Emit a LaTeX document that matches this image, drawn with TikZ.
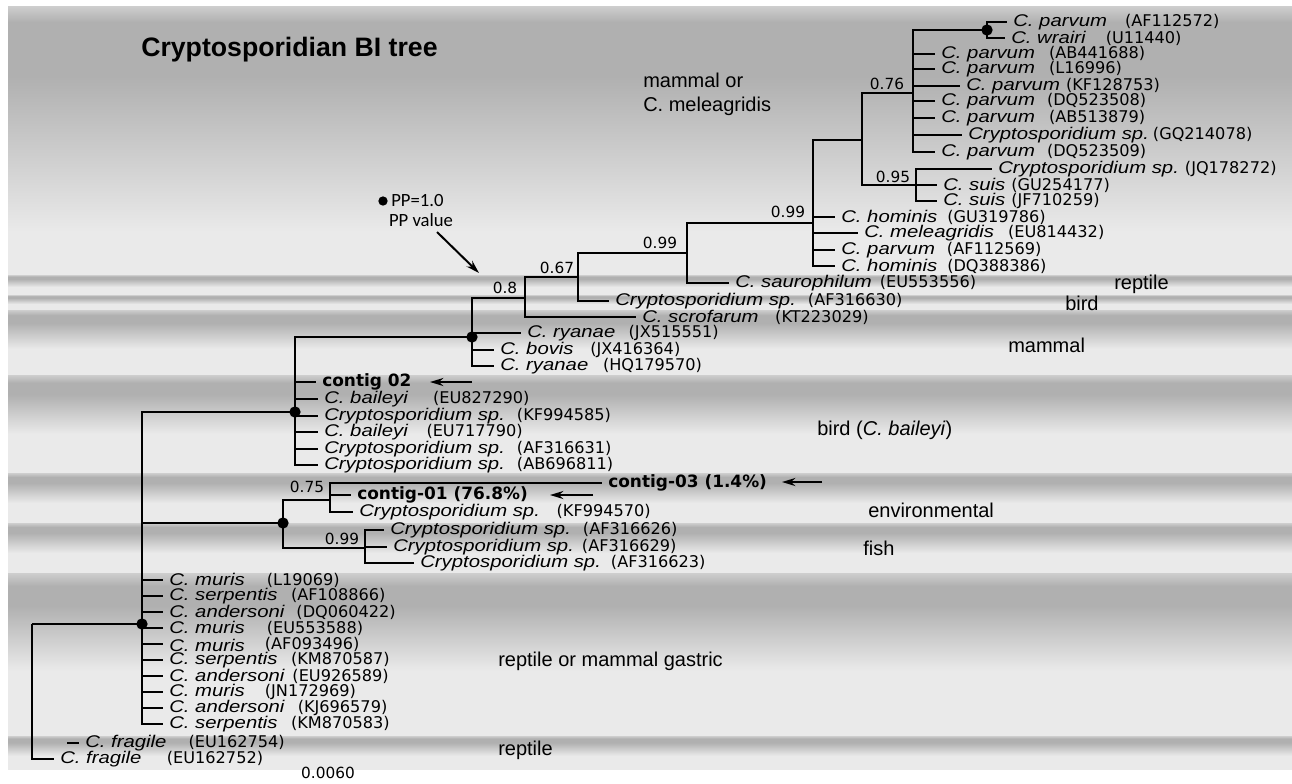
\documentclass[tikz,border=0pt]{standalone}
\usepackage{fontspec}
\setmainfont{Liberation Sans}
\newfontfamily\namefont[FakeStretch=1.2]{Liberation Sans}
\newfontfamily\accfont{DejaVu Sans}
\newfontfamily\ppfont{Carlito}
\usetikzlibrary{arrows.meta}

\definecolor{banddark}{RGB}{176,176,176}
\definecolor{bandlight}{RGB}{234,234,234}
\definecolor{bandedge}{RGB}{206,206,206}
\pgfdeclareverticalshading{bandshade}{100bp}{color(0bp)=(bandlight); color(25bp)=(bandlight); color(45bp)=(bandlight); color(65bp)=(banddark); color(71bp)=(banddark); color(75bp)=(bandedge); color(100bp)=(bandedge)}
\pgfdeclareverticalshading{topshade}{100bp}{color(0bp)=(bandlight); color(25bp)=(bandlight); color(33bp)=(bandlight); color(62bp)=(banddark); color(72bp)=(banddark); color(75bp)=(bandedge); color(100bp)=(bandedge)}

\newcommand{\taxon}[3]{{\namefont\itshape #1}\hspace{#3pt}{\accfont\fontsize{12.1}{14}\selectfont(#2)}}
\newcommand{\contig}[1]{{\accfont\bfseries #1}}

\begin{document}
\begin{tikzpicture}[x=0.75pt, y=-0.75pt,
  branch/.style={line width=1.5pt},
  leaf/.style={anchor=west, inner xsep=4.5pt, inner ysep=1pt, font=\fontsize{12.7}{14}\selectfont},
  ppdot/.style={circle, fill=black, inner sep=0pt, minimum size=8.5pt},
  support/.style={inner sep=0pt, font=\accfont\fontsize{11.5}{13}\selectfont},
  host/.style={anchor=west, inner sep=0pt, font=\fontsize{15}{18}\selectfont},
  pointer/.style={-{Stealth[length=10pt,width=6pt]}, line width=1.5pt}]

% background bands
\useasboundingbox (0,0) rectangle (1292,783);
\fill[white] (0,0) rectangle (1292,783);
\shade[shading=topshade] (8,6) rectangle (1292,275);
\foreach \ya/\yb in {275/295,295/310,310/375,375/473,473/523,523/573,573/736,736/769}
  \shade[shading=bandshade] (8,\ya) rectangle (1292,\yb);

\node[anchor=west, inner sep=0pt, font=\fontsize{20}{24}\selectfont\bfseries] (title) at (141,50) {Cryptosporidian BI tree};

% host labels
\node[host, align=left] (hmeleag) at (643,94) {mammal or\\C. meleagridis};
\node[host] (hrep1) at (1114,284) {reptile};
\node[host] (hbird1) at (1065,303) {bird};
\node[host] (hmam) at (1008,345) {mammal};
\node[host] (hbai) at (817,430) {bird (\textit{C. baileyi})};
\node[host] (henv) at (868,510) {environmental};
\node[host] (hfish) at (863,548) {fish};
\node[host] (hgas) at (498,661) {reptile or mammal gastric};
\node[host] (hrep2) at (498,750) {reptile};

% internal nodes
\coordinate (pw) at (987,30);
\coordinate (n076) at (913,93);
\coordinate (nsuis) at (916,185);
\coordinate (nps) at (862,140);
\coordinate (n099a) at (813,223);
\coordinate (nsaur) at (687,253);
\coordinate (n067) at (578,277);
\coordinate (n08) at (525,298);
\coordinate (nry) at (472,337);
\coordinate (nbai) at (295,412);
\coordinate (nenv) at (283,523);
\coordinate (n075) at (330,500);
\coordinate (nfish) at (365,548);
\coordinate (nmur) at (142,624);
\coordinate (nroot) at (32,624);

% mammal or C. meleagridis
\node[leaf] (AF112572) at (1007,22) {\taxon{C. parvum}{AF112572}{13.5}};
\node[leaf] (U11440) at (1005,38) {\taxon{C. wrairi}{U11440}{15}};
\node[leaf] (AB441688) at (935,54) {\taxon{C. parvum}{AB441688}{10.5}};
\node[leaf] (L16996) at (935,69) {\taxon{C. parvum}{L16996}{10.5}};
\node[leaf] (KF128753) at (960,86) {\taxon{C. parvum}{KF128753}{4.5}};
\node[leaf] (DQ523508) at (935,101) {\taxon{C. parvum}{DQ523508}{9}};
\node[leaf] (AB513879) at (935,118) {\taxon{C. parvum}{AB513879}{10.5}};
\node[leaf] (GQ214078) at (962,135) {\taxon{Cryptosporidium sp.}{GQ214078}{3}};
\node[leaf] (DQ523509) at (935,152) {\taxon{C. parvum}{DQ523509}{9}};
\node[leaf] (JQ178272) at (992,169) {\taxon{Cryptosporidium sp.}{JQ178272}{4.5}};
\node[leaf] (GU254177) at (937,185) {\taxon{C. suis}{GU254177}{4.5}};
\node[leaf] (JF710259) at (937,201) {\taxon{C. suis}{JF710259}{4.5}};
\node[leaf] (GU319786) at (835,217) {\taxon{C. hominis}{GU319786}{7.5}};
\node[leaf] (EU814432) at (858,233) {\taxon{C. meleagridis}{EU814432}{10.5}};
\node[leaf] (AF112569) at (835,250) {\taxon{C. parvum}{AF112569}{9}};
\node[leaf] (DQ388386) at (835,266) {\taxon{C. hominis}{DQ388386}{7.5}};

\draw[branch] (pw) |- (AF112572) (pw) |- (U11440);
\draw[branch] (n076) |- (pw) (n076) |- (AB441688) (n076) |- (L16996) (n076) |- (KF128753)
  (n076) |- (DQ523508) (n076) |- (AB513879) (n076) |- (GQ214078) (n076) |- (DQ523509);
\draw[branch] (nsuis) |- (JQ178272) (nsuis) |- (GU254177) (nsuis) |- (JF710259);
\draw[branch] (nps) |- (n076) (nps) |- (nsuis);
\draw[branch] (n099a) |- (nps) (n099a) |- (GU319786) (n099a) |- (EU814432)
  (n099a) |- (AF112569) (n099a) |- (DQ388386);
\node[support] (s076) at (887,84) {0.76};
\node[support] (s095) at (893,177) {0.95};
\node[support] (s099a) at (788,212) {0.99};

% reptile, bird, mammal
\node[leaf] (EU553556) at (729,283) {\taxon{C. saurophilum}{EU553556}{6}};
\node[leaf] (AF316630) at (609,301) {\taxon{Cryptosporidium sp.}{AF316630}{9}};
\node[leaf] (KT223029) at (636,317) {\taxon{C. scrofarum}{KT223029}{12.5}};
\node[leaf] (JX515551) at (521,333) {\taxon{C. ryanae}{JX515551}{10}};
\node[leaf] (JX416364) at (494,350) {\taxon{C. bovis}{JX416364}{12.5}};
\node[leaf] (HQ179570) at (494,366) {\taxon{C. ryanae}{HQ179570}{11}};

\draw[branch] (nsaur) |- (n099a) (nsaur) |- (EU553556);
\draw[branch] (n067) |- (nsaur) (n067) |- (AF316630);
\draw[branch] (n08) |- (n067) (n08) |- (KT223029);
\draw[branch] (nry) |- (n08) (nry) |- (JX515551) (nry) |- (JX416364) (nry) |- (HQ179570);
\node[support] (s099b) at (660,243) {0.99};
\node[support] (s067) at (557,268) {0.67};
\node[support] (s08) at (505,288) {0.8};

% bird (C. baileyi)
\node[leaf] (contig02) at (316,382) {\contig{contig 02}};
\foreach \y/\sp/\acc/\gap in {399/C. baileyi/EU827290/19, 416/Cryptosporidium sp./KF994585/9,
  432/C. baileyi/EU717790/14, 449/Cryptosporidium sp./AF316631/9, 465/Cryptosporidium sp./AB696811/9}
  \node[leaf] (\acc) at (318,\y) {\taxon{\sp}{\acc}{\gap}};
\draw[branch] (nbai) |- (nry) (nbai) |- (contig02) (nbai) |- (EU827290) (nbai) |- (KF994585)
  (nbai) |- (EU717790) (nbai) |- (AF316631) (nbai) |- (AB696811);

% environmental and fish
\node[leaf] (contig03) at (602,483) {\contig{contig-03 (1.4\%)}};
\node[leaf] (contig01) at (351,495) {\contig{contig-01 (76.8\%)}};
\node[leaf] (KF994570) at (353,512) {\taxon{Cryptosporidium sp.}{KF994570}{12.5}};
\node[leaf] (AF316626) at (384,530) {\taxon{Cryptosporidium sp.}{AF316626}{9}};
\node[leaf] (AF316629) at (387,547) {\taxon{Cryptosporidium sp.}{AF316629}{6}};
\node[leaf] (AF316623) at (414,563) {\taxon{Cryptosporidium sp.}{AF316623}{7.5}};

\draw[branch] (n075) |- (contig03) (n075) |- (contig01) (n075) |- (KF994570);
\draw[branch] (nfish) |- (AF316626) (nfish) |- (AF316629) (nfish) |- (AF316623);
\draw[branch] (nenv) |- (n075) (nenv) |- (nfish);
\node[support] (s075) at (307,487) {0.75};
\node[support] (s099c) at (342,539) {0.99};

% reptile or mammal gastric
\foreach \y/\sp/\acc/\gap in {580/C. muris/L19069/16.5, 596/C. serpentis/AF108866/10,
  612/C. andersoni/DQ060422/9, 628/C. muris/EU553588/16.5, 660/C. serpentis/KM870587/10,
  676/C. andersoni/EU926589/6, 692/C. muris/JN172969/15, 708/C. andersoni/KJ696579/10,
  724/C. serpentis/KM870583/10}
  \node[leaf] (\acc) at (163,\y) {\taxon{\sp}{\acc}{\gap}};
\node[leaf] (AF093496) at (163,644) {{\namefont\itshape C. muris}\hspace{15pt}\raisebox{1.5pt}{\accfont\fontsize{12.1}{14}\selectfont(AF093496)}};
\draw[branch] (nmur) |- (nbai) (nmur) |- (nenv);
\foreach \acc in {L19069,AF108866,DQ060422,EU553588,AF093496,KM870587,EU926589,JN172969,KJ696579,KM870583}
  \draw[branch] (nmur) |- (\acc);

% outgroup
\node[leaf] (EU162754) at (79,743) {\taxon{C. fragile}{EU162754}{16.5}};
\node[leaf] (EU162752) at (54,759) {\taxon{C. fragile}{EU162752}{19}};
\coordinate (fragstub) at (67,743);
\draw[branch] (fragstub) -- (EU162754);
\draw[branch] (nroot) -- (nmur) (nroot) |- (EU162752);

% PP = 1.0 dots
\foreach \n in {pw,nry,nbai,nenv,nmur}
  \node[ppdot] at (\n) {};

% legend and pointers
\node[ppdot, minimum size=7pt] (legdot) at (383,201) {};
\node[anchor=west, inner sep=0pt, font=\ppfont\fontsize{14}{16}\selectfont] (legpp) at (391,201) {PP=1.0};
\node[inner sep=0pt, font=\ppfont\fontsize{14}{16}\selectfont] (legval) at (421,220) {PP value};
\coordinate (legfrom) at (437,232);
\coordinate (legto) at (479,273);
\draw[pointer] (legfrom) -- (legto);
\coordinate (c02tail) at (472,382);
\coordinate (c02head) at (430,382);
\coordinate (c01tail) at (593,495);
\coordinate (c01head) at (550,495);
\coordinate (c03tail) at (822,482);
\coordinate (c03head) at (782,482);
\draw[pointer] (c02tail) -- (c02head);
\draw[pointer] (c01tail) -- (c01head);
\draw[pointer] (c03tail) -- (c03head);

\node[support] (scale) at (328,773) {0.0060};
\end{tikzpicture}
\end{document}
